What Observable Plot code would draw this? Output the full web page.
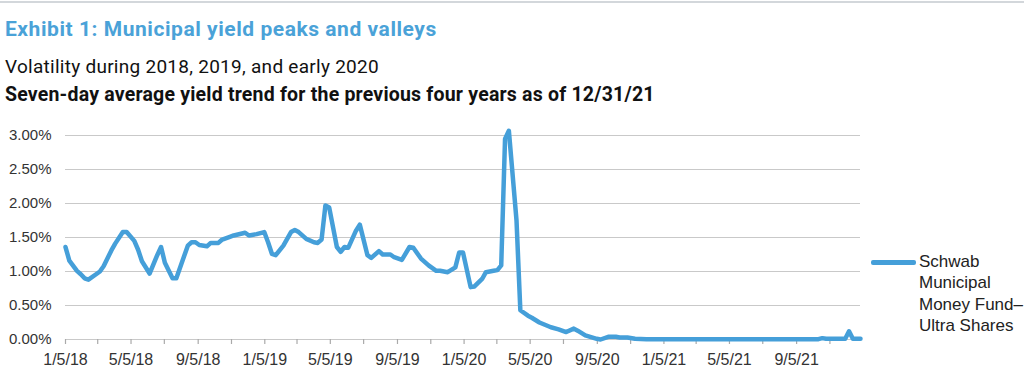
<!DOCTYPE html>
<html>
<head>
<meta charset="utf-8">
<script src="https://cdn.jsdelivr.net/npm/d3@7"></script>
<script src="https://cdn.jsdelivr.net/npm/@observablehq/plot@0.6"></script>
<style>
  html, body { margin: 0; padding: 0; background: #fff; }
  #wrap { position: relative; width: 1024px; height: 376px; overflow: hidden; background: #fff; }
  .topline { position: absolute; left: 0; top: 1px; width: 1024px; height: 2px; background: #d3d7db; }
  .t1 { position: absolute; left: 5px; top: 19px; font: 700 21px/1 Roboto, sans-serif; letter-spacing: 0.55px; color: #4aa2d8; white-space: nowrap; }
  .t2 { position: absolute; left: 5px; top: 56.5px; font: 400 19px/1 Roboto, sans-serif; letter-spacing: 0.27px; color: #111; white-space: nowrap; }
  .t3 { position: absolute; left: 5px; top: 85px; font: 700 19.5px/1 Roboto, sans-serif; letter-spacing: 0.2px; color: #111; white-space: nowrap; }
  #chart { position: absolute; left: 0; top: 120px; }
  #legend { position: absolute; left: 871px; top: 251px; font: 400 17px/21.4px "Liberation Sans", Arial, sans-serif; color: #222; }
  #legend .sw { position: absolute; left: 0; top: 9px; width: 45px; height: 5px; background: #459fd9; border-radius: 2px; }
  #legend .lab { position: absolute; left: 48px; top: 0; white-space: nowrap; }
</style>
</head>
<body>
<div id="wrap">
  <div class="topline"></div>
  <div class="t1">Exhibit 1: Municipal yield peaks and valleys</div>
  <div class="t2">Volatility during 2018, 2019, and early 2020</div>
  <div class="t3">Seven-day average yield trend for the previous four years as of 12/31/21</div>
  <div id="chart"></div>
  <div id="legend"><div class="sw"></div><div class="lab">Schwab<br>Municipal<br>Money Fund–<br>Ultra Shares</div></div>
</div>
<script>
// Series: Schwab Municipal Money Fund – Ultra Shares, seven-day yield (%)
const seriesName = "Schwab Municipal Money Fund–Ultra Shares";
const dates = [
  "2018-01-05","2018-01-12","2018-01-26","2018-02-02","2018-02-09","2018-02-16","2018-03-02","2018-03-09",
  "2018-03-16","2018-03-30","2018-04-06","2018-04-20","2018-04-27","2018-05-11","2018-05-18","2018-05-25",
  "2018-06-08","2018-06-22","2018-06-29","2018-07-06","2018-07-20","2018-07-27","2018-08-10","2018-08-17",
  "2018-08-24","2018-08-31","2018-09-07","2018-09-21","2018-09-28","2018-10-12","2018-10-19","2018-11-02",
  "2018-11-09","2018-11-30","2018-12-07","2018-12-21","2019-01-04","2019-01-11","2019-01-18","2019-01-25",
  "2019-02-08","2019-02-22","2019-03-01","2019-03-08","2019-03-22","2019-04-05","2019-04-12","2019-04-19",
  "2019-04-26","2019-05-03","2019-05-17","2019-05-24","2019-05-31","2019-06-07","2019-06-21","2019-06-28",
  "2019-07-12","2019-07-19","2019-08-02","2019-08-09","2019-08-23","2019-08-30","2019-09-13","2019-09-27",
  "2019-10-04","2019-10-18","2019-11-01","2019-11-15","2019-11-22","2019-12-06","2019-12-20","2019-12-27",
  "2020-01-03","2020-01-17","2020-01-24","2020-02-07","2020-02-14","2020-02-28","2020-03-06","2020-03-13",
  "2020-03-20","2020-03-27","2020-04-10","2020-04-17","2020-05-01","2020-05-08","2020-05-22","2020-06-12",
  "2020-06-26","2020-07-10","2020-07-24","2020-07-31","2020-08-14","2020-09-04","2020-09-11","2020-09-25",
  "2020-10-09","2020-10-16","2020-10-30","2020-11-13","2020-12-04","2021-10-15","2021-10-22","2021-10-29",
  "2021-12-03","2021-12-10","2021-12-17","2021-12-31"
];
const yields = [
  1.36, 1.16, 1.01, 0.96, 0.90, 0.88, 0.96, 1.00,
  1.08, 1.31, 1.41, 1.58, 1.58, 1.45, 1.32, 1.15,
  0.97, 1.24, 1.36, 1.13, 0.90, 0.90, 1.22, 1.38,
  1.43, 1.43, 1.39, 1.37, 1.42, 1.42, 1.47, 1.51,
  1.53, 1.57, 1.53, 1.55, 1.58, 1.43, 1.26, 1.24,
  1.38, 1.58, 1.61, 1.58, 1.48, 1.43, 1.42, 1.47,
  1.97, 1.94, 1.36, 1.29, 1.36, 1.35, 1.60, 1.69,
  1.24, 1.20, 1.30, 1.25, 1.25, 1.21, 1.17, 1.36,
  1.35, 1.19, 1.09, 1.01, 1.01, 0.99, 1.06, 1.28,
  1.28, 0.77, 0.78, 0.89, 0.99, 1.01, 1.02, 1.09,
  2.95, 3.07, 1.75, 0.43, 0.35, 0.32, 0.25, 0.18,
  0.15, 0.11, 0.16, 0.13, 0.06, 0.01, 0.00, 0.04,
  0.04, 0.03, 0.03, 0.01, 0.005, 0.005, 0.02, 0.01,
  0.01, 0.12, 0.01, 0.01
];
const yTicks = [0, 0.5, 1.0, 1.5, 2.0, 2.5, 3.0];
const yTickLabels = ["0.00%", "0.50%", "1.00%", "1.50%", "2.00%", "2.50%", "3.00%"];
const xMajorTicks = ["2018-01-05","2018-05-05","2018-09-05","2019-01-05","2019-05-05","2019-09-05",
                     "2020-01-05","2020-05-05","2020-09-05","2021-01-05","2021-05-05","2021-09-05"];
const xTickLabels = ["1/5/18","5/5/18","9/5/18","1/5/19","5/5/19","9/5/19",
                     "1/5/20","5/5/20","9/5/20","1/5/21","5/5/21","9/5/21"];
const xMinorTicks = ["2018-03-05","2018-07-05","2018-11-05","2019-03-05","2019-07-05","2019-11-05",
                     "2020-03-05","2020-07-05","2020-11-05","2021-03-05","2021-07-05","2021-11-05"];
const xDomain = ["2018-01-05", "2021-12-31"];

const data = dates.map((d, i) => ({date: new Date(d), y: yields[i], series: seriesName}));
const major = xMajorTicks.map(d => new Date(d));
const allTicks = major.concat(xMinorTicks.map(d => new Date(d)));

const chart = Plot.plot({
  width: 1024,
  height: 256,
  marginLeft: 65,
  marginRight: 164,
  marginTop: 15,
  marginBottom: 37,
  style: {fontFamily: "'Liberation Sans', Arial, sans-serif", fontSize: "15px", color: "#333", background: "#fff"},
  x: {type: "utc", domain: xDomain.map(d => new Date(d))},
  y: {domain: [0, 3]},
  marks: [
    Plot.gridY(yTicks, {stroke: "#c9c9c9", strokeOpacity: 1, strokeWidth: 1.2}),
    Plot.axisY(yTicks, {tickSize: 0, tickPadding: 14, tickFormat: (d, i) => yTickLabels[i], label: null, fontSize: 15}),
    Plot.axisX(allTicks, {tickSize: 5, stroke: "#aaa", strokeWidth: 1.2, tickFormat: () => "", label: null}),
    Plot.axisX(major, {tickSize: 0, tickPadding: 14, tickFormat: (d, i) => xTickLabels[i], label: null, fontSize: 16}),
    Plot.line(data, {x: "date", y: "y", stroke: "#459fd9", strokeWidth: 4.5, strokeLinejoin: "round", strokeLinecap: "round"})
  ]
});
document.getElementById("chart").appendChild(chart);
</script>
</body>
</html>
